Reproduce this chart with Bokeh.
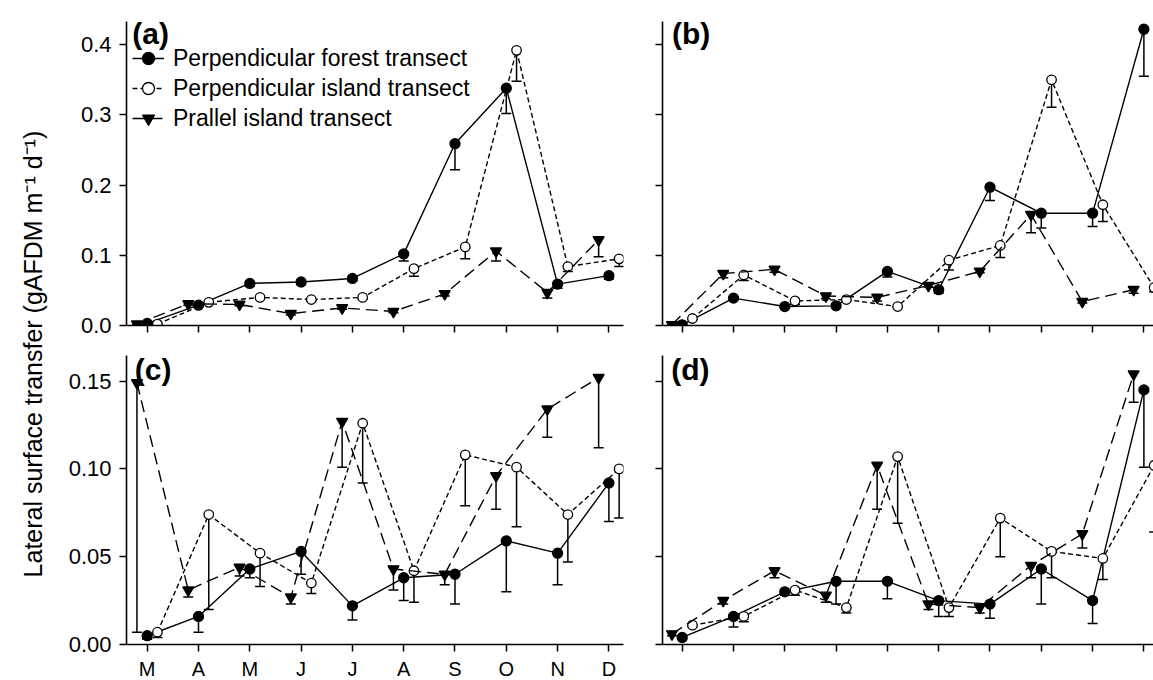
import numpy as np
import pandas as pd
from bokeh.plotting import figure
from bokeh.layouts import row, column
from bokeh.models import (ColumnDataSource, Range1d, FixedTicker, Whisker, TeeHead,
                          Legend, LegendItem, Label, NumeralTickFormatter)
from bokeh.core.properties import value
from bokeh.embed import file_html
from bokeh.resources import INLINE

# ---------------- data ----------------
months = ["M", "A", "M", "J", "J", "A", "S", "O", "N", "D"]
series_names = ["Perpendicular forest transect",
                "Perpendicular island transect",
                "Prallel island transect"]
panel_tags = ["(a)", "(b)", "(c)", "(d)"]
y_label = "Lateral surface transfer (gAFDM m\u207b\u00b9 d\u207b\u00b9)"
ticks_top = [0.0, 0.1, 0.2, 0.3, 0.4]
ticks_bottom = [0.0, 0.05, 0.10, 0.15]

# panel (a)
forest_a = [0.003, 0.029, 0.060, 0.062, 0.067, 0.102, 0.259, 0.338, 0.059, 0.071]
forest_a_err = [0.001, 0.002, 0.004, 0.004, 0.004, 0.010, 0.037, 0.036, 0.006, 0.005]
island_a = [0.002, 0.033, 0.040, 0.037, 0.040, 0.081, 0.112, 0.392, 0.084, 0.095]
island_a_err = [0.001, 0.001, 0.002, 0.002, 0.002, 0.011, 0.017, 0.044, 0.007, 0.011]
parallel_a = [0.002, 0.031, 0.030, 0.017, 0.025, 0.020, 0.045, 0.106, 0.047, 0.122]
parallel_a_err = [0.001, 0.002, 0.002, 0.002, 0.002, 0.002, 0.003, 0.014, 0.008, 0.024]

# panel (b)
forest_b = [0.001, 0.039, 0.027, 0.028, 0.077, 0.051, 0.197, 0.160, 0.160, 0.422]
forest_b_err = [0.001, 0.002, 0.002, 0.002, 0.008, 0.005, 0.019, 0.021, 0.019, 0.067]
island_b = [0.010, 0.072, 0.035, 0.037, 0.027, 0.093, 0.114, 0.350, 0.172, 0.054]
island_b_err = [0.001, 0.008, 0.005, 0.002, 0.001, 0.014, 0.017, 0.039, 0.024, 0.006]
parallel_b = [0.001, 0.074, 0.080, 0.042, 0.040, 0.057, 0.077, 0.158, 0.034, 0.051]
parallel_b_err = [0.001, 0.006, 0.004, 0.004, 0.005, 0.002, 0.002, 0.026, 0.002, 0.005]

# panel (c)
forest_c = [0.005, 0.016, 0.043, 0.053, 0.022, 0.038, 0.040, 0.059, 0.052, 0.092]
forest_c_err = [0.002, 0.009, 0.005, 0.013, 0.008, 0.013, 0.017, 0.029, 0.018, 0.022]
island_c = [0.007, 0.074, 0.052, 0.035, 0.126, 0.042, 0.108, 0.101, 0.074, 0.100]
island_c_err = [0.003, 0.054, 0.019, 0.006, 0.034, 0.018, 0.029, 0.034, 0.027, 0.028]
parallel_c = [0.149, 0.031, 0.044, 0.027, 0.127, 0.043, 0.040, 0.096, 0.134, 0.152]
parallel_c_err = [0.142, 0.004, 0.005, 0.004, 0.026, 0.012, 0.006, 0.019, 0.016, 0.040]

# panel (d)
forest_d = [0.004, 0.016, 0.030, 0.036, 0.036, 0.025, 0.023, 0.043, 0.025, 0.145]
forest_d_err = [0.001, 0.006, 0.002, 0.013, 0.010, 0.009, 0.008, 0.020, 0.013, 0.044]
island_d = [0.011, 0.016, 0.031, 0.021, 0.107, 0.021, 0.072, 0.053, 0.049, 0.102]
island_d_err = [0.001, 0.003, 0.003, 0.003, 0.038, 0.005, 0.022, 0.015, 0.012, 0.038]
parallel_d = [0.006, 0.025, 0.042, 0.028, 0.102, 0.023, 0.021, 0.045, 0.063, 0.154]
parallel_d_err = [0.001, 0.002, 0.004, 0.004, 0.025, 0.003, 0.003, 0.007, 0.008, 0.016]

panels = [
    [(forest_a, forest_a_err), (island_a, island_a_err), (parallel_a, parallel_a_err)],
    [(forest_b, forest_b_err), (island_b, island_b_err), (parallel_b, parallel_b_err)],
    [(forest_c, forest_c_err), (island_c, island_c_err), (parallel_c, parallel_c_err)],
    [(forest_d, forest_d_err), (island_d, island_d_err), (parallel_d, parallel_d_err)],
]

# ---------------- styles ----------------
FONT = "Liberation Sans"
STYLES = [
    dict(offset=0.0, dash="solid", marker="circle", fill="black", size=10),
    dict(offset=0.2, dash="5 3", marker="circle", fill="white", size=9.5),
    dict(offset=-0.2, dash="12 6", marker="inverted_triangle", fill="black", size=11),
]
PX_PER_MONTH = 51.3


def make_panel(idx, data, frame_w, frame_h, x0, y_max, borders, yticks, yfmt,
               show_x_labels, show_y_labels, tag_x, tag_y):
    left, right, top, bottom = borders
    p = figure(frame_width=frame_w, frame_height=frame_h,
               x_range=Range1d(x0, x0 + frame_w / PX_PER_MONTH),
               y_range=Range1d(0, y_max),
               min_border_left=left, min_border_right=right,
               min_border_top=top, min_border_bottom=bottom,
               output_backend="svg", toolbar_location=None)
    p.outline_line_color = None
    p.xgrid.visible = False
    p.ygrid.visible = False
    p.background_fill_color = "white"
    p.border_fill_color = "white"

    items = []
    for (vals, errs), st, name in zip(data, STYLES, series_names):
        x = np.arange(len(months)) + st["offset"]
        y = np.array(vals)
        lo = y - np.array(errs)
        src = ColumnDataSource(pd.DataFrame(dict(x=x, y=y, lo=lo)))
        w = Whisker(source=src, base="x", upper="y", lower="lo", dimension="height",
                    line_color="black", line_width=1.5, upper_head=None,
                    lower_head=TeeHead(size=10, line_width=1.5, line_color="black"))
        p.add_layout(w)
        ln = p.line("x", "y", source=src, line_color="black", line_width=1.4,
                    line_dash=st["dash"])
        sc = p.scatter("x", "y", source=src, marker=st["marker"], size=st["size"],
                       fill_color=st["fill"], line_color="black", line_width=1.3)
        items.append(LegendItem(label=name, renderers=[ln, sc]))

    for ax in (p.xaxis[0], p.yaxis[0]):
        ax.axis_line_width = 1.6
        ax.axis_line_color = "black"
        ax.major_tick_line_width = 1.5
        ax.major_tick_line_color = "black"
        ax.major_tick_out = 7
        ax.major_tick_in = 0
        ax.minor_tick_line_color = None
        ax.major_label_text_font = FONT
        ax.major_label_text_color = "black"

    xt = list(range(len(months)))
    p.xaxis.ticker = FixedTicker(ticks=xt, minor_ticks=[])
    p.yaxis.ticker = FixedTicker(ticks=yticks, minor_ticks=[])
    p.yaxis.formatter = NumeralTickFormatter(format=yfmt)
    if show_x_labels:
        p.xaxis.major_label_overrides = {i: m for i, m in enumerate(months)}
        p.xaxis.major_label_text_font_size = "20px"
        p.xaxis.major_label_standoff = 6
    else:
        p.xaxis.major_label_overrides = {i: "" for i in xt}
        p.xaxis.major_label_text_font_size = "1px"
        p.xaxis.major_label_standoff = 0
    if show_y_labels:
        p.yaxis.major_label_text_font_size = "22px"
        p.yaxis.major_label_standoff = 8
    else:
        p.yaxis.major_label_overrides = {t: "" for t in yticks}
        p.yaxis.major_label_text_font_size = "1px"
        p.yaxis.major_label_standoff = 0

    p.add_layout(Label(x=tag_x, y=tag_y, text=panel_tags[idx], text_font=FONT,
                       text_font_size="30px", text_font_style="bold",
                       text_color="black", text_baseline="alphabetic"))
    return p, items


LEFT_X0 = -0.4035
RIGHT_X0 = -0.384
TOP_YMAX = 304 / 702.0
BOT_YMAX = 289 / 1756.0

pa, items_a = make_panel(0, panels[0], 497, 304, LEFT_X0, TOP_YMAX, (76, 10, 21, 15),
                         ticks_top, "0.0", False, True, -0.292, 0.4155)
pb, _ = make_panel(1, panels[1], 491, 304, RIGHT_X0, TOP_YMAX, (29, 0, 21, 15),
                   ticks_top, "0.0", False, False, -0.20, 0.4155)
pc, _ = make_panel(2, panels[2], 497, 289, LEFT_X0, BOT_YMAX, (76, 10, 15, 36),
                   ticks_bottom, "0.00", True, True, -0.242, 0.1565)
pd_, _ = make_panel(3, panels[3], 491, 289, RIGHT_X0, BOT_YMAX, (29, 0, 15, 36),
                    ticks_bottom, "0.00", False, False, -0.215, 0.1565)

legend = Legend(items=items_a, location=(6, 192), orientation="vertical",
                label_text_font=FONT, label_text_font_size="23px",
                label_text_color="black", glyph_width=32, glyph_height=30,
                label_height=30, label_standoff=9, spacing=0, padding=5,
                margin=0, border_line_color=None, background_fill_alpha=0)
pa.add_layout(legend)

ylab = figure(frame_width=50, frame_height=680, min_border=0,
              x_range=Range1d(0, 1), y_range=Range1d(0, 1),
              x_axis_location=None, y_axis_location=None,
              output_backend="svg", toolbar_location=None)
ylab.outline_line_color = None
ylab.xgrid.visible = False
ylab.ygrid.visible = False
ylab.text(x=[0.64], y=[0.48], text=[y_label], angle=np.pi / 2,
          text_font=value(FONT), text_font_size="25px", text_color="black",
          text_align="center", text_baseline="alphabetic")

layout = row(ylab, column(row(pa, pb), row(pc, pd_)))

open("out.html", "w").write(file_html(layout, INLINE))
